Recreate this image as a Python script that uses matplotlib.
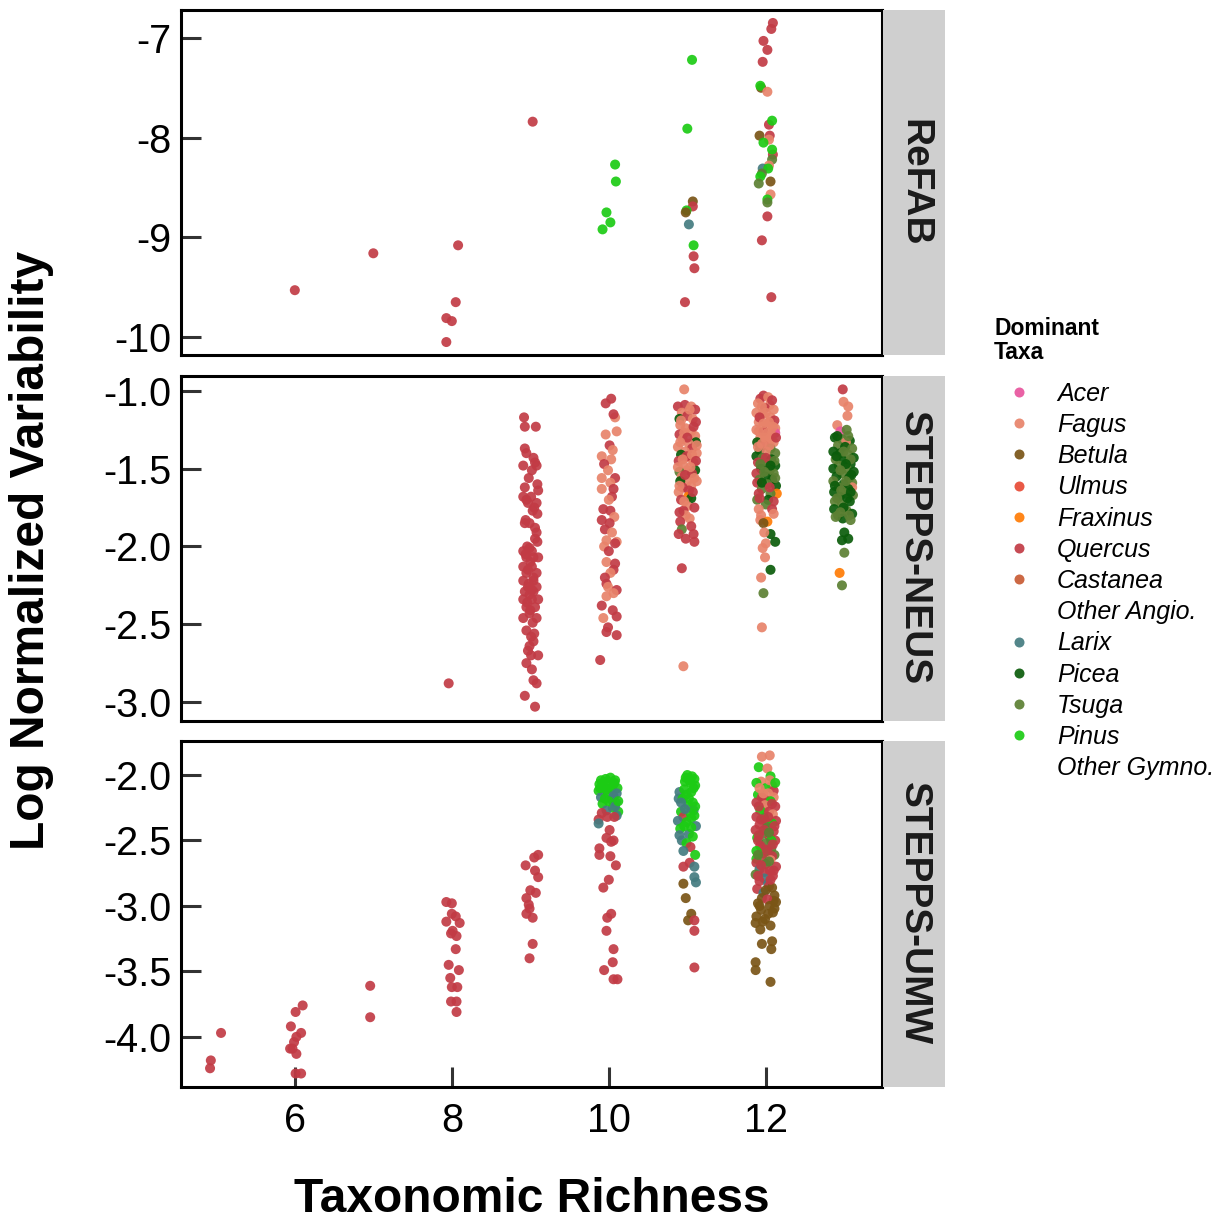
import matplotlib
matplotlib.use("Agg")
import matplotlib.pyplot as plt

plt.rcParams['font.family'] = ['Liberation Sans', 'DejaVu Sans']

# ---------------- data ----------------
taxa = ['Acer', 'Fagus', 'Betula', 'Ulmus', 'Fraxinus', 'Quercus', 'Castanea',
        'Other Angio.', 'Larix', 'Picea', 'Tsuga', 'Pinus', 'Other Gymno.']
taxa_codes = ['Ac', 'Fa', 'Be', 'Ul', 'Fr', 'Qu', 'Ca', 'OA', 'La', 'Pi', 'Ts', 'Pn', 'OG']
taxa_colors = ['#E8559E', '#E8836A', '#7A5516', '#E84B36', '#FF7C05', '#C23B45', '#C85B34',
               '#FFFFFF', '#447C80', '#0B5C0B', '#5C8033', '#1CCB14', '#FFFFFF']

panel_names = ['ReFAB', 'STEPPS-NEUS', 'STEPPS-UMW']
x_ticks = [6, 8, 10, 12]
x_ticklabels = ['6', '8', '10', '12']
y_ticks = [[-10, -9, -8, -7], [-3.0, -2.5, -2.0, -1.5, -1.0], [-4.0, -3.5, -3.0, -2.5, -2.0]]
y_ticklabels = [['-10', '-9', '-8', '-7'], ['-3.0', '-2.5', '-2.0', '-1.5', '-1.0'],
                ['-4.0', '-3.5', '-3.0', '-2.5', '-2.0']]

refab_pts = [
    (6.00, -9.53, 'Qu'), (7.00, -9.16, 'Qu'), (8.08, -9.08, 'Qu'), (8.05, -9.65, 'Qu'),
    (7.93, -9.81, 'Qu'), (8.00, -9.84, 'Qu'), (7.93, -10.05, 'Qu'), (9.03, -7.84, 'Qu'),
    (10.08, -8.27, 'Pn'), (10.09, -8.44, 'Pn'), (9.97, -8.75, 'Pn'), (10.02, -8.85, 'Pn'), (9.92, -8.92, 'Pn'),
    (11.06, -7.22, 'Pn'), (11.00, -7.91, 'Pn'), (11.07, -8.64, 'Be'), (11.07, -8.69, 'Qu'),
    (10.99, -8.73, 'Pn'), (10.98, -8.75, 'Be'), (11.02, -8.87, 'La'), (11.08, -9.08, 'Pn'),
    (11.08, -9.19, 'Qu'), (11.09, -9.31, 'Qu'), (10.97, -9.65, 'Qu'),
    (12.09, -6.85, 'Qu'), (12.07, -6.91, 'Qu'), (11.97, -7.03, 'Qu'), (12.02, -7.12, 'Qu'),
    (11.96, -7.24, 'Qu'), (11.94, -7.50, 'Be'), (11.93, -7.48, 'Pn'), (12.02, -7.54, 'Fa'),
    (12.04, -7.87, 'Qu'), (12.08, -7.83, 'Pn'), (11.92, -7.98, 'Be'), (12.05, -7.98, 'Qu'),
    (12.04, -8.02, 'Fa'), (11.97, -8.05, 'Pn'), (12.09, -8.17, 'Qu'), (12.08, -8.12, 'Pn'),
    (12.08, -8.22, 'Ts'), (12.04, -8.28, 'Fa'), (11.96, -8.31, 'La'), (12.03, -8.31, 'Pn'),
    (11.95, -8.36, 'Ts'), (11.93, -8.39, 'Pn'), (11.91, -8.46, 'Ts'), (12.06, -8.44, 'Be'),
    (12.06, -8.57, 'Fa'), (12.02, -8.62, 'Pn'), (12.02, -8.65, 'Ts'), (12.02, -8.79, 'Qu'),
    (11.95, -9.03, 'Qu'), (12.07, -9.60, 'Qu'),
]

neus_pts = [
    (7.96, -2.88, 'Qu'),
    # richness 9
    (8.92, -1.17, 'Qu'), (8.93, -1.23, 'Qu'), (9.07, -1.23, 'Qu'), (8.93, -1.37, 'Qu'), (8.95, -1.40, 'Qu'),
    (9.04, -1.43, 'Qu'), (9.06, -1.46, 'Qu'), (8.91, -1.48, 'Qu'), (9.08, -1.48, 'Qu'), (9.02, -1.51, 'Qu'),
    (8.98, -1.56, 'Qu'), (9.09, -1.60, 'Qu'), (8.93, -1.62, 'Qu'), (9.10, -1.64, 'Qu'), (8.91, -1.68, 'Qu'),
    (9.01, -1.68, 'Qu'), (8.95, -1.70, 'Qu'), (8.97, -1.72, 'Qu'), (9.08, -1.72, 'Qu'), (9.05, -1.75, 'Qu'),
    (9.03, -1.77, 'Qu'), (9.09, -1.79, 'Qu'), (8.94, -1.83, 'Qu'), (8.93, -1.85, 'Qu'), (8.99, -1.85, 'Qu'),
    (9.06, -1.88, 'Qu'), (9.08, -1.91, 'Qu'), (9.06, -1.95, 'Qu'), (9.09, -1.97, 'Qu'), (8.96, -2.00, 'Qu'),
    (8.99, -2.01, 'Qu'), (8.91, -2.03, 'Qu'), (9.02, -2.03, 'Qu'), (8.94, -2.05, 'Qu'), (8.95, -2.07, 'Qu'),
    (9.04, -2.07, 'Qu'), (9.10, -2.07, 'Qu'), (9.00, -2.10, 'Qu'), (8.91, -2.13, 'Qu'), (9.02, -2.13, 'Qu'),
    (8.97, -2.15, 'Qu'), (8.95, -2.17, 'Qu'), (9.08, -2.17, 'Qu'), (9.04, -2.20, 'Qu'), (8.91, -2.22, 'Qu'),
    (9.04, -2.22, 'Qu'), (8.98, -2.24, 'Qu'), (8.97, -2.26, 'Qu'), (9.08, -2.26, 'Qu'), (9.02, -2.28, 'Qu'),
    (8.93, -2.29, 'Qu'), (9.04, -2.29, 'Qu'), (8.99, -2.31, 'Qu'), (8.91, -2.34, 'Qu'), (9.02, -2.34, 'Qu'),
    (9.10, -2.34, 'Qu'), (8.96, -2.36, 'Qu'), (8.95, -2.39, 'Qu'), (9.06, -2.39, 'Qu'), (9.00, -2.41, 'Qu'),
    (8.99, -2.43, 'Qu'), (8.91, -2.46, 'Qu'), (9.08, -2.46, 'Qu'), (9.03, -2.49, 'Qu'), (8.95, -2.54, 'Qu'),
    (9.05, -2.56, 'Qu'), (9.01, -2.58, 'Qu'), (9.04, -2.61, 'Qu'), (8.99, -2.64, 'Qu'), (8.97, -2.67, 'Qu'),
    (9.01, -2.70, 'Qu'), (9.10, -2.70, 'Qu'), (8.95, -2.75, 'Qu'), (9.02, -2.79, 'Qu'), (9.04, -2.86, 'Qu'),
    (9.08, -2.88, 'Qu'), (8.93, -2.96, 'Qu'), (9.06, -3.03, 'Qu'),
    # richness 10
    (9.96, -1.08, 'Qu'), (10.03, -1.05, 'Qu'), (10.08, -1.17, 'Fa'), (10.06, -1.15, 'Qu'), (10.10, -1.26, 'Fa'),
    (9.96, -1.28, 'Fa'), (10.01, -1.35, 'Qu'), (10.05, -1.38, 'Fa'), (9.91, -1.42, 'Fa'), (10.03, -1.44, 'Fa'),
    (9.94, -1.47, 'Qu'), (9.99, -1.51, 'Fa'), (9.91, -1.56, 'Fa'), (10.08, -1.56, 'Qu'), (10.02, -1.59, 'Fa'),
    (10.06, -1.63, 'Qu'), (9.91, -1.63, 'Fa'), (10.04, -1.68, 'Qu'), (10.00, -1.70, 'Fa'), (9.93, -1.76, 'Qu'),
    (10.02, -1.77, 'Qu'), (10.07, -1.81, 'Fa'), (9.91, -1.83, 'Qu'), (10.01, -1.85, 'Qu'), (9.95, -1.89, 'Qu'),
    (10.04, -1.91, 'Fa'), (10.10, -1.97, 'Fa'), (9.97, -1.96, 'Fa'), (10.08, -1.98, 'Qu'), (9.94, -2.00, 'Fa'),
    (10.00, -2.03, 'Qu'), (9.97, -2.10, 'Fa'), (10.08, -2.11, 'Qu'), (10.06, -2.15, 'Qu'), (10.02, -2.17, 'Fa'),
    (9.95, -2.20, 'Qu'), (9.97, -2.24, 'Qu'), (9.99, -2.26, 'Fa'), (10.10, -2.28, 'Qu'), (10.06, -2.30, 'Fa'),
    (9.97, -2.32, 'Fa'), (9.91, -2.38, 'Qu'), (10.05, -2.41, 'Qu'), (9.93, -2.46, 'Fa'), (10.10, -2.45, 'Qu'),
    (9.99, -2.52, 'Qu'), (10.10, -2.57, 'Qu'), (9.97, -2.55, 'Qu'), (9.89, -2.73, 'Qu'),
    # richness 11
    (10.96, -0.99, 'Fa'), (10.88, -1.10, 'Qu'), (10.97, -1.09, 'Qu'), (11.05, -1.10, 'Fa'), (11.10, -1.12, 'Qu'),
    (10.93, -1.14, 'Fa'), (10.90, -1.18, 'Pi'), (11.00, -1.16, 'Qu'), (11.07, -1.18, 'Fa'), (11.11, -1.20, 'Qu'),
    (10.91, -1.22, 'Fa'), (10.98, -1.24, 'Fa'), (11.05, -1.26, 'Fa'), (10.90, -1.28, 'Qu'), (11.10, -1.29, 'Fa'),
    (10.94, -1.31, 'Fa'), (11.11, -1.33, 'Pi'), (11.02, -1.34, 'Fa'), (10.88, -1.36, 'Fa'), (11.06, -1.37, 'Qu'),
    (10.97, -1.39, 'Fa'), (11.12, -1.40, 'Fa'), (10.92, -1.41, 'Pi'), (11.03, -1.43, 'Fa'), (10.89, -1.45, 'Qu'),
    (11.08, -1.46, 'Fa'), (10.95, -1.48, 'Fa'), (11.10, -1.51, 'Pi'), (11.00, -1.51, 'Fa'), (10.90, -1.52, 'Ts'),
    (11.06, -1.53, 'Qu'), (10.93, -1.55, 'Fa'), (11.09, -1.56, 'Fa'), (11.00, -1.58, 'Fa'), (10.91, -1.58, 'Pi'),
    (11.05, -1.61, 'Fa'), (10.94, -1.62, 'Qu'), (10.89, -1.65, 'Fa'), (11.02, -1.64, 'Qu'), (11.01, -1.68, 'Fr'),
    (11.05, -1.69, 'Pi'), (10.92, -1.70, 'Qu'), (11.00, -1.74, 'Fa'), (10.95, -1.77, 'Qu'), (10.98, -1.80, 'Fa'),
    (10.91, -1.84, 'Qu'), (10.93, -1.89, 'Ts'), (10.89, -1.92, 'Qu'), (11.08, -1.92, 'Qu'), (11.09, -1.97, 'Qu'),
    (10.93, -2.14, 'Qu'), (10.95, -2.77, 'Fa'),
    (11.03, -1.12, 'Fa'), (10.92, -1.19, 'Fa'), (11.08, -1.23, 'Qu'), (10.96, -1.27, 'Fa'), (11.00, -1.30, 'Qu'),
    (11.12, -1.35, 'Fa'), (10.91, -1.33, 'Fa'), (10.99, -1.42, 'Qu'), (11.06, -1.41, 'Fa'), (10.94, -1.44, 'Fa'),
    (11.11, -1.45, 'Qu'), (10.88, -1.49, 'Fa'), (11.04, -1.49, 'Fa'), (10.97, -1.54, 'Qu'), (11.12, -1.58, 'Fa'),
    (10.90, -1.61, 'Fa'), (11.07, -1.65, 'Qu'), (10.96, -1.71, 'Fa'), (11.09, -1.75, 'Qu'), (10.90, -1.78, 'Qu'),
    (11.03, -1.82, 'Fa'), (10.98, -1.95, 'Qu'), (11.05, -1.87, 'Qu'),
    # richness 12
    (11.97, -1.03, 'Qu'), (11.93, -1.05, 'Qu'), (11.90, -1.08, 'Fa'), (12.05, -1.09, 'Fa'), (11.99, -1.11, 'Qu'),
    (12.10, -1.12, 'Fa'), (11.88, -1.14, 'Fa'), (11.96, -1.15, 'Fa'), (12.06, -1.17, 'Fa'), (12.11, -1.19, 'Qu'),
    (11.91, -1.20, 'Fa'), (12.01, -1.22, 'Fa'), (12.12, -1.24, 'Fa'), (11.88, -1.25, 'Fa'), (11.97, -1.26, 'Qu'),
    (12.12, -1.27, 'Ac'), (12.07, -1.28, 'Fa'), (11.93, -1.30, 'Fa'), (12.03, -1.31, 'Fa'), (11.89, -1.33, 'Pi'),
    (12.10, -1.33, 'Fa'), (11.98, -1.35, 'Qu'), (12.06, -1.37, 'Ts'), (11.92, -1.38, 'Pi'), (12.01, -1.39, 'Fa'),
    (12.12, -1.40, 'Ts'), (11.88, -1.42, 'Pi'), (11.96, -1.43, 'Ts'), (12.07, -1.44, 'Pi'), (11.90, -1.46, 'Qu'),
    (12.02, -1.47, 'Ts'), (12.12, -1.48, 'Pi'), (11.94, -1.50, 'Pi'), (12.05, -1.51, 'Ts'), (11.88, -1.53, 'Qu'),
    (12.10, -1.53, 'Ts'), (11.99, -1.55, 'Pi'), (11.92, -1.57, 'Ts'), (12.08, -1.57, 'Pi'), (11.89, -1.59, 'Qu'),
    (12.02, -1.60, 'Ts'), (12.13, -1.61, 'Pi'), (11.95, -1.63, 'Ts'), (12.14, -1.66, 'Fr'), (11.91, -1.66, 'Qu'),
    (12.06, -1.66, 'Ts'), (11.89, -1.70, 'Ts'), (12.03, -1.70, 'Pi'), (12.10, -1.71, 'Qu'), (12.00, -1.73, 'Ts'),
    (11.91, -1.76, 'Fa'), (12.08, -1.76, 'Qu'), (11.94, -1.80, 'Fa'), (11.93, -1.83, 'Fa'), (12.02, -1.84, 'Fr'),
    (11.97, -1.85, 'Be'), (12.06, -1.92, 'Pi'), (12.00, -1.98, 'Fa'), (12.12, -1.97, 'Pi'), (11.96, -2.01, 'Fa'),
    (11.99, -2.07, 'Fa'), (12.06, -2.15, 'Pi'), (11.94, -2.20, 'Fa'), (11.97, -2.30, 'Ts'), (11.95, -2.52, 'Fa'),
    (12.03, -1.04, 'Fa'), (12.08, -1.06, 'Qu'), (11.95, -1.10, 'Fa'), (12.00, -1.14, 'Fa'), (11.92, -1.17, 'Qu'),
    (12.04, -1.20, 'Fa'), (11.97, -1.21, 'Fa'), (12.09, -1.23, 'Fa'), (11.91, -1.26, 'Fa'), (12.02, -1.27, 'Fa'),
    (11.99, -1.30, 'Fa'), (12.13, -1.30, 'Qu'), (11.95, -1.34, 'Fa'), (12.05, -1.35, 'Fa'), (11.90, -1.36, 'Fa'),
    (12.00, -1.43, 'Qu'), (12.11, -1.45, 'Ts'), (11.93, -1.47, 'Ts'), (12.06, -1.48, 'Pi'), (11.98, -1.52, 'Ts'),
    (12.12, -1.56, 'Ts'), (11.95, -1.59, 'Pi'), (12.05, -1.62, 'Qu'), (11.92, -1.69, 'Qu'), (12.10, -1.79, 'Fa'),
    (11.98, -1.91, 'Fa'),
    # richness 13
    (12.98, -0.99, 'Qu'), (12.99, -1.07, 'Fa'), (13.05, -1.10, 'Fa'), (13.04, -1.16, 'Fa'), (12.91, -1.22, 'Fa'),
    (12.95, -1.26, 'Ac'), (13.03, -1.25, 'Ts'), (12.88, -1.30, 'Pi'), (12.97, -1.31, 'Ts'), (13.07, -1.32, 'Pi'),
    (13.02, -1.33, 'Fa'), (12.92, -1.35, 'Ts'), (13.01, -1.36, 'Pi'), (13.10, -1.37, 'Ts'), (12.86, -1.39, 'Pi'),
    (12.95, -1.40, 'Pi'), (13.05, -1.41, 'Ts'), (13.12, -1.43, 'Pi'), (12.89, -1.44, 'Ts'), (12.99, -1.45, 'Pi'),
    (13.08, -1.47, 'Pi'), (12.93, -1.48, 'Ts'), (12.86, -1.50, 'Pi'), (13.03, -1.50, 'Ts'), (13.12, -1.52, 'Pi'),
    (12.97, -1.53, 'Ts'), (12.90, -1.55, 'Pi'), (13.06, -1.56, 'Pi'), (12.86, -1.58, 'Ts'), (13.10, -1.59, 'Ts'),
    (12.99, -1.60, 'Pi'), (13.10, -1.62, 'Fa'), (12.93, -1.62, 'Ts'), (13.05, -1.63, 'Pi'), (12.87, -1.65, 'Pi'),
    (13.01, -1.66, 'Ts'), (13.11, -1.67, 'Ts'), (12.94, -1.68, 'Pi'), (12.88, -1.71, 'Ts'), (13.07, -1.71, 'Pi'),
    (12.97, -1.73, 'Ts'), (12.87, -1.76, 'Pi'), (13.03, -1.77, 'Ts'), (13.10, -1.79, 'Pi'), (12.92, -1.80, 'Ts'),
    (12.98, -1.82, 'Pi'), (13.08, -1.83, 'Ts'), (13.00, -1.91, 'Pi'), (12.97, -1.96, 'Pi'), (13.05, -1.95, 'Pi'),
    (13.00, -2.04, 'Ts'), (12.94, -2.17, 'Fr'), (12.97, -2.25, 'Ts'),
    (12.91, -1.29, 'Pi'), (13.05, -1.29, 'Ts'), (12.99, -1.39, 'Ts'), (12.90, -1.42, 'Pi'), (13.08, -1.44, 'Ts'),
    (13.02, -1.47, 'Pi'), (12.95, -1.51, 'Ts'), (13.09, -1.54, 'Pi'), (12.88, -1.61, 'Pi'), (13.02, -1.58, 'Ts'),
    (13.08, -1.65, 'Pi'), (12.96, -1.64, 'Ts'), (12.91, -1.69, 'Ts'), (13.04, -1.69, 'Pi'), (12.99, -1.75, 'Pi'),
    (13.06, -1.80, 'Ts'), (12.89, -1.81, 'Ts'), (12.95, -1.78, 'Ts'),
]

umw_pts = [
    (4.93, -4.18, 'Qu'), (4.92, -4.24, 'Qu'), (5.06, -3.97, 'Qu'),
    (6.10, -3.76, 'Qu'), (6.01, -3.81, 'Qu'), (5.95, -3.92, 'Qu'), (6.08, -3.97, 'Qu'), (6.02, -4.00, 'Qu'),
    (5.99, -4.04, 'Qu'), (5.94, -4.09, 'Qu'), (5.97, -4.09, 'Qu'), (6.02, -4.13, 'Qu'), (6.01, -4.28, 'Qu'),
    (6.08, -4.28, 'Qu'),
    (6.96, -3.61, 'Qu'), (6.96, -3.85, 'Qu'),
    (7.93, -2.97, 'Qu'), (8.00, -2.98, 'Qu'), (8.00, -3.06, 'Qu'), (8.05, -3.08, 'Qu'), (7.93, -3.12, 'Qu'),
    (8.10, -3.13, 'Qu'), (8.01, -3.19, 'Qu'), (7.99, -3.21, 'Qu'), (8.06, -3.23, 'Qu'), (8.05, -3.33, 'Qu'),
    (7.96, -3.45, 'Qu'), (8.09, -3.49, 'Qu'), (7.98, -3.55, 'Qu'), (8.00, -3.62, 'Qu'), (8.07, -3.62, 'Qu'),
    (7.99, -3.73, 'Qu'), (8.06, -3.73, 'Qu'), (8.06, -3.81, 'Qu'),
    (9.10, -2.61, 'Qu'), (9.05, -2.63, 'Qu'), (8.94, -2.69, 'Qu'), (9.06, -2.73, 'Qu'), (9.10, -2.78, 'Qu'),
    (9.00, -2.88, 'Qu'), (9.07, -2.90, 'Qu'), (8.95, -2.94, 'Qu'), (8.98, -2.99, 'Qu'), (8.99, -3.02, 'Qu'),
    (8.95, -3.06, 'Qu'), (9.03, -3.09, 'Qu'), (9.03, -3.29, 'Qu'), (8.99, -3.40, 'Qu'),
    # richness 10
    (9.90, -2.04, 'Pn'), (9.96, -2.03, 'Pn'), (10.02, -2.02, 'Pn'), (9.88, -2.07, 'Pn'), (10.07, -2.06, 'Pn'),
    (9.94, -2.09, 'Pn'), (10.03, -2.10, 'Pn'), (10.11, -2.10, 'Pn'), (9.87, -2.12, 'Pn'), (9.90, -2.17, 'La'),
    (9.99, -2.14, 'Pn'), (10.04, -2.19, 'La'), (10.09, -2.21, 'La'), (9.95, -2.18, 'Pn'), (10.05, -2.25, 'Pn'),
    (10.12, -2.28, 'Pn'), (10.10, -2.31, 'La'), (9.92, -2.22, 'Pn'), (9.97, -2.27, 'La'), (9.91, -2.29, 'Qu'),
    (9.87, -2.34, 'Qu'), (9.98, -2.32, 'Qu'), (10.07, -2.32, 'Qu'), (9.87, -2.37, 'La'),
    (9.98, -2.05, 'Pn'), (10.08, -2.04, 'Pn'), (9.92, -2.06, 'Pn'), (10.05, -2.08, 'Pn'), (9.97, -2.11, 'Pn'),
    (10.10, -2.14, 'La'), (9.89, -2.10, 'Pn'), (10.06, -2.16, 'La'), (10.00, -2.20, 'Pn'), (10.08, -2.24, 'La'),
    (10.12, -2.20, 'Pn'),
    (10.01, -2.42, 'Qu'), (9.97, -2.48, 'Qu'), (10.03, -2.51, 'Qu'), (10.06, -2.50, 'Qu'), (9.88, -2.56, 'Qu'),
    (9.88, -2.61, 'Qu'), (10.02, -2.62, 'Qu'), (10.09, -2.69, 'Qu'), (10.00, -2.80, 'Qu'), (9.93, -2.86, 'Qu'),
    (10.03, -3.06, 'Qu'), (9.98, -3.09, 'Qu'), (9.97, -3.19, 'Qu'), (10.06, -3.33, 'Qu'), (10.05, -3.43, 'Qu'),
    (9.94, -3.49, 'Qu'), (10.06, -3.56, 'Qu'), (10.11, -3.56, 'Qu'),
    # richness 11
    (11.00, -2.00, 'Pn'), (11.06, -2.01, 'Pn'), (11.09, -2.03, 'Pn'), (10.97, -2.05, 'Pn'), (11.04, -2.06, 'Pn'),
    (11.10, -2.08, 'Pn'), (10.90, -2.13, 'La'), (10.96, -2.11, 'Pn'), (11.05, -2.13, 'Pn'), (10.89, -2.18, 'La'),
    (10.94, -2.18, 'Pn'), (11.07, -2.21, 'Pn'), (11.01, -2.23, 'Pn'), (11.08, -2.27, 'La'), (10.92, -2.28, 'Pn'),
    (10.95, -2.32, 'Qu'), (11.05, -2.33, 'Pn'), (10.88, -2.35, 'La'), (10.99, -2.36, 'Pn'), (11.11, -2.39, 'La'),
    (10.91, -2.41, 'Pn'), (11.02, -2.45, 'La'), (11.07, -2.47, 'Pn'), (10.93, -2.50, 'La'), (10.99, -2.52, 'Pn'),
    (10.98, -2.02, 'Pn'), (11.03, -2.04, 'Pn'), (11.08, -2.10, 'Pn'), (10.99, -2.15, 'Pn'), (11.02, -2.18, 'Pn'),
    (10.92, -2.21, 'La'), (11.10, -2.24, 'Pn'), (11.04, -2.29, 'Pn'), (10.97, -2.26, 'La'), (11.09, -2.31, 'Pn'),
    (10.96, -2.39, 'Pn'), (11.05, -2.40, 'Pn'), (10.90, -2.46, 'La'), (11.04, -2.55, 'Qu'),
    (10.95, -2.58, 'La'), (11.10, -2.61, 'Pn'), (11.03, -2.67, 'Qu'), (11.09, -2.70, 'La'), (10.95, -2.70, 'Qu'),
    (11.09, -2.78, 'La'), (10.95, -2.83, 'Be'), (11.11, -2.82, 'La'), (10.98, -2.94, 'Be'), (11.05, -3.06, 'Be'),
    (11.01, -3.11, 'Be'), (11.09, -3.11, 'Qu'), (11.09, -3.19, 'Qu'), (11.09, -3.47, 'Qu'),
    # richness 12
    (11.95, -1.86, 'Fa'), (12.05, -1.85, 'Fa'), (11.91, -1.94, 'Pn'), (12.02, -1.95, 'Fa'), (12.06, -2.01, 'Pn'),
    (11.94, -2.05, 'Fa'), (11.88, -2.06, 'Pn'), (12.08, -2.08, 'Fa'), (12.00, -2.10, 'Pn'), (12.10, -2.12, 'Qu'),
    (12.03, -2.14, 'Fa'), (11.90, -2.15, 'Pn'), (11.95, -2.17, 'Qu'), (12.10, -2.17, 'Fa'), (11.99, -2.19, 'Qu'),
    (12.06, -2.20, 'Pn'), (11.88, -2.21, 'Qu'), (11.99, -2.23, 'Fa'), (12.12, -2.24, 'Qu'), (11.97, -2.26, 'Fa'),
    (11.93, -2.27, 'Pn'), (12.04, -2.28, 'Qu'), (12.09, -2.30, 'Fa'), (11.88, -2.32, 'Qu'), (11.98, -2.33, 'Ts'),
    (12.13, -2.35, 'Qu'), (12.01, -2.36, 'Qu'), (12.08, -2.37, 'Pn'), (11.92, -2.38, 'Qu'), (12.02, -2.40, 'Ts'),
    (11.87, -2.42, 'Qu'), (12.10, -2.43, 'Qu'), (11.96, -2.45, 'Ts'), (12.05, -2.47, 'Qu'), (11.89, -2.48, 'Pn'),
    (11.90, -2.50, 'Qu'), (12.12, -2.50, 'Qu'), (12.07, -2.50, 'Pn'), (12.00, -2.52, 'Ts'), (11.93, -2.54, 'Qu'),
    (11.95, -2.56, 'Qu'), (12.07, -2.56, 'Ts'), (11.88, -2.58, 'Pn'), (12.03, -2.59, 'Qu'), (11.98, -2.60, 'Pn'),
    (12.11, -2.61, 'Ts'), (12.08, -2.62, 'Qu'), (11.96, -2.63, 'Qu'), (11.88, -2.64, 'Pn'), (12.06, -2.65, 'Fa'),
    (11.88, -2.67, 'Qu'), (12.00, -2.68, 'Ts'), (12.13, -2.70, 'Qu'), (11.92, -2.72, 'La'), (12.05, -2.73, 'Qu'),
    (11.98, -2.74, 'Qu'), (11.87, -2.76, 'Ts'), (12.09, -2.77, 'Qu'), (11.98, -2.79, 'La'), (11.92, -2.81, 'Qu'),
    (12.03, -2.83, 'La'), (12.04, -2.85, 'Qu'), (12.08, -2.86, 'Be'), (11.89, -2.87, 'Qu'), (11.97, -2.90, 'La'),
    (11.92, -2.10, 'Fa'), (12.05, -2.04, 'Fa'), (12.12, -2.06, 'Pn'), (11.97, -2.14, 'Fa'), (12.08, -2.22, 'Qu'),
    (11.91, -2.24, 'Qu'), (12.03, -2.32, 'Qu'), (11.94, -2.34, 'Qu'), (12.11, -2.39, 'Qu'), (11.98, -2.42, 'Qu'),
    (12.04, -2.44, 'Ts'), (11.91, -2.46, 'Qu'), (12.09, -2.53, 'Qu'), (12.01, -2.57, 'Qu'), (11.90, -2.61, 'Ts'),
    (12.04, -2.66, 'Ts'), (11.94, -2.69, 'Qu'), (12.10, -2.73, 'Qu'), (11.90, -2.77, 'Qu'), (12.06, -2.80, 'Qu'),
    (12.00, -2.88, 'Be'), (12.10, -2.96, 'Be'), (11.92, -3.00, 'Be'), (12.03, -3.06, 'Be'), (12.11, -3.02, 'Be'),
    (11.96, -3.12, 'Be'),
    (12.11, -2.92, 'Be'), (11.95, -2.94, 'Be'), (12.02, -2.95, 'Qu'), (12.13, -2.97, 'Be'), (11.90, -2.98, 'Be'),
    (12.05, -3.00, 'Be'), (11.94, -3.03, 'Be'), (12.09, -3.05, 'Be'), (11.88, -3.08, 'Be'), (11.99, -3.10, 'Be'),
    (11.87, -3.13, 'Be'), (12.06, -3.15, 'Be'), (11.93, -3.18, 'Be'), (12.08, -3.27, 'Be'), (11.95, -3.29, 'Be'),
    (12.07, -3.33, 'Be'), (11.87, -3.43, 'Be'), (11.87, -3.49, 'Be'), (12.06, -3.58, 'Be'),
]

panel_points = [refab_pts, neus_pts, umw_pts]

# ---------------- layout (pixels) ----------------
W, H = 1217, 1226
fig = plt.figure(figsize=(W / 100, H / 100), dpi=100)

def box(l, t, r, b):
    return [l / W, 1 - b / H, (r - l) / W, (b - t) / H]

panel_px = [(181, 10, 882, 355), (181, 376, 882, 721), (181, 741, 882, 1087)]
ylims = [(-10.18, -6.72), (-3.122, -0.904), (-4.383, -1.74)]
xlim = (4.55, 13.48)

color_of = dict(zip(taxa_codes, taxa_colors))
MS = 52

for i, (pts, (l, t, r, b)) in enumerate(zip(panel_points, panel_px)):
    ax = fig.add_axes(box(l, t, r, b))
    xs = [p[0] for p in pts]
    ys = [p[1] for p in pts]
    cs = [color_of[p[2]] for p in pts]
    ax.scatter(xs, ys, s=MS, c=cs, linewidths=0, alpha=0.92, zorder=3)
    ax.set_xlim(*xlim)
    ax.set_ylim(*ylims[i])
    ax.set_yticks(y_ticks[i])
    ax.set_yticklabels(y_ticklabels[i])
    for sp in ax.spines.values():
        sp.set_linewidth(2.2)
        sp.set_color('black')
    ax.tick_params(axis='y', direction='in', length=14.5, width=2.2, color='#333333',
                   labelsize=28.5, pad=7, labelcolor='black')
    if i == 2:
        ax.set_xticks(x_ticks)
        ax.set_xticklabels(x_ticklabels)
        ax.tick_params(axis='x', direction='in', length=14.5, width=2.2, color='#333333',
                       labelsize=28.5, pad=11, labelcolor='black')
    else:
        ax.set_xticks([])
    # strip
    sax = fig.add_axes(box(883, t, 945, b))
    sax.set_facecolor('#CFCFCF')
    sax.set_xticks([]); sax.set_yticks([])
    for sp in sax.spines.values():
        sp.set_visible(False)
    sax.text(0.5, 0.5, panel_names[i], rotation=-90, ha='center', va='center',
             fontsize=28, fontweight='bold', color='#1A1A1A', transform=sax.transAxes)

# axis titles
fig.text(531.5 / W, 1 - 1199 / H, 'Taxonomic Richness', ha='center', va='center',
         fontsize=34.5, fontweight='bold')
fig.text(32 / W, 1 - 550 / H, 'Log Normalized Variability', ha='center', va='center',
         rotation=90, fontsize=34.5, fontweight='bold')

# legend (drawn in a pixel-space overlay)
lax = fig.add_axes([0, 0, 1, 1])
lax.set_xlim(0, W)
lax.set_ylim(H, 0)
lax.axis('off')
lax.text(994, 317, 'Dominant\nTaxa', ha='left', va='top', fontsize=16.5,
         fontweight='bold', linespacing=1.05)
for k, (name, col) in enumerate(zip(taxa, taxa_colors)):
    yc = 392 + k * 31.2
    lax.scatter([1019], [yc], s=MS, c=[col], linewidths=0, alpha=0.92)
    lax.text(1057, yc + 8.8, name, ha='left', va='baseline', fontsize=18, style='italic')

fig.savefig('out.png', dpi=100)
